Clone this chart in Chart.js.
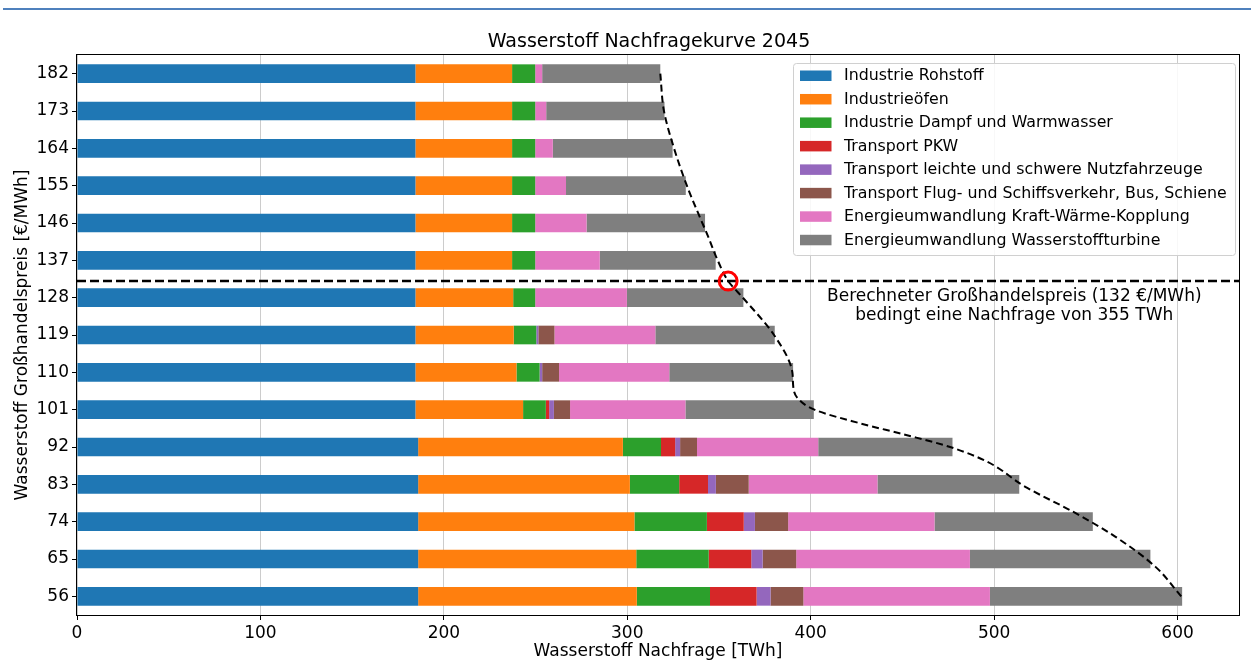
<!DOCTYPE html>
<html>
<head>
<meta charset="utf-8">
<script src="https://cdn.jsdelivr.net/npm/chart.js@4.4.0/dist/chart.umd.min.js"></script>
<style>
  html, body { margin: 0; padding: 0; background: #fff; }
  #wrap { position: relative; width: 1251px; height: 662px; }
</style>
</head>
<body>
<div id="wrap"><canvas id="chart" width="1251" height="662"></canvas></div>
<script>
// Preisstufen (€/MWh), oben nach unten
const prices = ['182', '173', '164', '155', '146', '137', '128', '119', '110', '101', '92', '83', '74', '65', '56'];

// Nachfrage je Sektor (TWh)
const rohstoff      = [184.5, 184.5, 184.5, 184.5, 184.5, 184.5, 184.5, 184.5, 184.5, 184.5, 186.0, 186.0, 186.0, 186.0, 186.0];
const oefen         = [52.7, 52.7, 52.7, 52.7, 52.7, 52.7, 53.3, 53.6, 55.1, 58.7, 111.6, 115.4, 117.9, 118.9, 119.2];
const dampf         = [12.6, 12.6, 12.6, 12.6, 12.6, 12.6, 12.0, 12.3, 12.6, 12.4, 20.8, 26.9, 39.5, 39.5, 39.9];
const pkw           = [0, 0, 0, 0, 0, 0, 0, 0, 0, 1.8, 7.7, 15.7, 20.1, 23.2, 25.4];
const nutzfahrzeuge = [0, 0, 0, 0, 0, 0, 0, 1.1, 1.4, 2.6, 2.7, 4.3, 6.1, 6.2, 7.6];
const flugSchiff    = [0, 0, 0, 0, 0, 0, 0, 8.8, 9.2, 8.8, 9.2, 17.9, 18.1, 18.3, 17.9];
const kwk           = [3.8, 6.0, 9.6, 16.8, 28.0, 35.2, 50.0, 55.0, 60.1, 62.9, 66.1, 70.2, 79.8, 94.7, 101.7];
const turbine       = [64.4, 64.5, 65.3, 65.3, 64.6, 63.2, 63.5, 65.1, 67.5, 70.0, 73.2, 77.3, 86.3, 98.4, 104.8];

// Nachfragekurve (gestrichelt)
const curvePrice  = [182, 173, 164, 155, 148.3, 142.7, 137, 132, 128, 119, 110, 106.5, 103.7, 101, 97.7, 94.9, 92, 88.5, 82.4, 76.4, 70.4, 63.1, 56];
const curveDemand = [318, 320, 325.5, 332.5, 338.7, 344.1, 349.3, 355, 363, 380, 390, 390.5, 393, 402, 427, 452, 476, 496, 517, 543, 566, 588, 602];

// Marktpreis
const marketPrice = 132;
const marketDemand = 355;
const xTicks = [0, 100, 200, 300, 400, 500, 600];
const xMax = 633.5;

const FONT = '"DejaVu Sans", Verdana, sans-serif';

const series = [
  { label: 'Industrie Rohstoff', data: rohstoff, color: '#1f77b4' },
  { label: 'Industrieöfen', data: oefen, color: '#ff7f0e' },
  { label: 'Industrie Dampf und Warmwasser', data: dampf, color: '#2ca02c' },
  { label: 'Transport PKW', data: pkw, color: '#d62728' },
  { label: 'Transport leichte und schwere Nutzfahrzeuge', data: nutzfahrzeuge, color: '#9467bd' },
  { label: 'Transport Flug- und Schiffsverkehr, Bus, Schiene', data: flugSchiff, color: '#8c564b' },
  { label: 'Energieumwandlung Kraft-Wärme-Kopplung', data: kwk, color: '#e377c2' },
  { label: 'Energieumwandlung Wasserstoffturbine', data: turbine, color: '#7f7f7f' }
];

const barSets = series.map(s => ({
  type: 'bar',
  label: s.label,
  data: s.data,
  backgroundColor: s.color,
  borderWidth: 0,
  grouped: false,
  categoryPercentage: 1,
  barPercentage: 0.5,
  order: 2
}));

const curveSet = {
  type: 'line',
  label: 'Nachfragekurve',
  data: curvePrice.map((p, i) => ({ x: curveDemand[i], y: p })),
  xAxisID: 'x2',
  yAxisID: 'y2',
  borderColor: '#000',
  borderWidth: 2,
  borderDash: [7, 4],
  pointRadius: 0,
  fill: false,
  cubicInterpolationMode: 'monotone',
  order: 1
};

const priceLineSet = {
  type: 'line',
  label: 'Preislinie',
  data: [{ x: 0, y: marketPrice }, { x: xMax, y: marketPrice }],
  xAxisID: 'x2',
  yAxisID: 'y2',
  borderColor: '#000',
  borderWidth: 2.5,
  borderDash: [9, 4],
  pointRadius: 0,
  fill: false,
  order: 1
};

const markerSet = {
  type: 'line',
  label: 'Marktpunkt',
  data: [{ x: marketDemand, y: marketPrice }],
  xAxisID: 'x2',
  yAxisID: 'y2',
  showLine: false,
  pointRadius: 9,
  pointBorderWidth: 3,
  pointBorderColor: '#ff0000',
  pointBackgroundColor: 'rgba(0,0,0,0)',
  order: 0
};

const decor = {
  id: 'decor',
  beforeDraw(chart) {
    const ctx = chart.ctx;
    ctx.save();
    ctx.fillStyle = '#fff';
    ctx.fillRect(0, 0, chart.width, chart.height);
    ctx.fillStyle = '#4f81bd';
    ctx.fillRect(3, 8, chart.width - 3, 2);
    ctx.restore();
  },
  afterDraw(chart) {
    const ctx = chart.ctx;
    const area = chart.chartArea;
    const xs = chart.scales.x2;
    const ys = chart.scales.y2;
    ctx.save();

    // Titel
    ctx.fillStyle = '#000';
    ctx.font = '19px ' + FONT;
    ctx.textAlign = 'center';
    ctx.textBaseline = 'middle';
    ctx.fillText('Wasserstoff Nachfragekurve 2045', 649, 42);

    // Anmerkung
    ctx.font = '17px ' + FONT;
    ctx.fillText('Berechneter Großhandelspreis (132 €/MWh)', xs.getPixelForValue(511), ys.getPixelForValue(128.3));
    ctx.fillText('bedingt eine Nachfrage von 355 TWh', xs.getPixelForValue(511), ys.getPixelForValue(123.6));

    // Legende
    const lx = 793, ly = 63, lw = 442, lh = 192;
    ctx.beginPath();
    ctx.roundRect(lx + 0.5, ly + 0.5, lw, lh, 3);
    ctx.fillStyle = 'rgba(255,255,255,0.85)';
    ctx.fill();
    ctx.strokeStyle = '#d0d0d0';
    ctx.lineWidth = 1;
    ctx.stroke();
    ctx.font = '15.8px ' + FONT;
    ctx.textAlign = 'left';
    series.forEach((s, i) => {
      const cy = ly + 12.7 + i * 23.47;
      ctx.fillStyle = s.color;
      ctx.fillRect(800, cy - 5.2, 31.5, 10.5);
      ctx.fillStyle = '#000';
      ctx.fillText(s.label, 844, cy + 0.5);
    });

    // Rahmen
    ctx.strokeStyle = '#000';
    ctx.lineWidth = 1;
    ctx.strokeRect(Math.round(area.left) - 0.5, Math.round(area.top) - 0.5,
      Math.round(area.right - area.left) + 1, Math.round(area.bottom - area.top) + 1);
    ctx.restore();
  }
};

new Chart(document.getElementById('chart'), {
  type: 'bar',
  data: {
    labels: prices,
    datasets: [...barSets, curveSet, priceLineSet, markerSet]
  },
  options: {
    indexAxis: 'y',
    responsive: false,
    animation: false,
    layout: { padding: { top: 55, right: 3, left: 0, bottom: 0 } },
    plugins: {
      legend: { display: false },
      tooltip: { enabled: false },
      title: { display: false }
    },
    scales: {
      x: {
        type: 'linear',
        stacked: true,
        min: 0,
        max: xMax,
        z: 1,
        afterBuildTicks: scale => { scale.ticks = xTicks.map(v => ({ value: v })); },
        afterFit: scale => { scale.height = 47; },
        grid: { color: '#cccccc', lineWidth: 1, tickLength: 5, tickColor: '#000' },
        border: { display: false },
        ticks: { color: '#000', font: { family: FONT, size: 17 }, padding: 3, maxRotation: 0 },
        title: {
          display: true,
          text: 'Wasserstoff Nachfrage [TWh]',
          color: '#000',
          font: { family: FONT, size: 17 },
          padding: { top: 0, bottom: 0.5 }
        }
      },
      x2: {
        type: 'linear',
        display: false,
        offset: false,
        min: 0,
        max: xMax
      },
      y: {
        type: 'category',
        stacked: true,
        afterFit: scale => { scale.width = 77; },
        grid: { drawOnChartArea: false, offset: false, tickLength: 5, tickColor: '#000' },
        border: { display: false },
        ticks: { color: '#000', font: { family: FONT, size: 17 }, padding: 3 },
        title: {
          display: true,
          text: 'Wasserstoff Großhandelspreis [€/MWh]',
          color: '#000',
          font: { family: FONT, size: 17 },
          padding: { top: 12.8, bottom: 0 }
        }
      },
      y2: {
        type: 'linear',
        display: false,
        offset: false,
        beginAtZero: false,
        grid: { offset: false },
        min: 51.5,
        max: 186.5
      }
    }
  },
  plugins: [decor]
});
</script>
</body>
</html>
